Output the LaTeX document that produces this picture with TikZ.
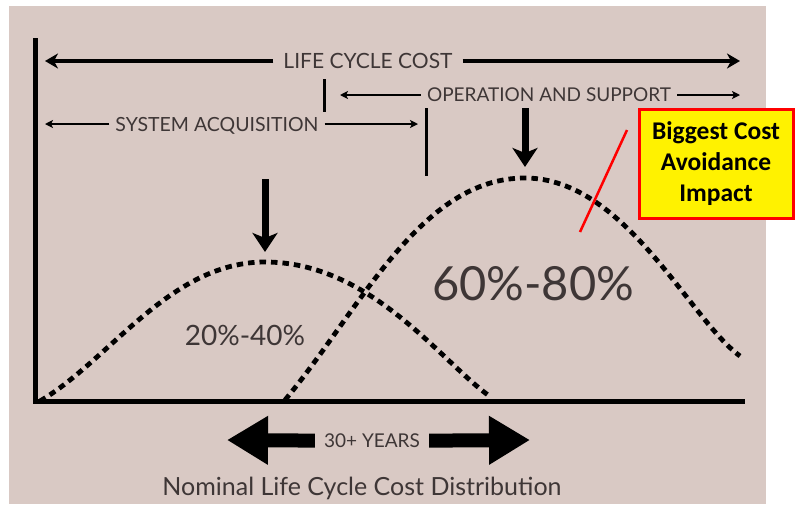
\documentclass[tikz,border=0pt]{standalone}
\usepackage{fontspec}
\setmainfont{Lato}
\newfontfamily\boxfont{Carlito}
\usetikzlibrary{arrows.meta}
\definecolor{bgpink}{RGB}{217,201,196}
\definecolor{ink}{RGB}{62,54,54}

\begin{document}
\begin{tikzpicture}[x=1pt,y=-1pt]
\tikzstyle{phase}=[text=ink, inner xsep=6pt, inner ysep=0pt, text depth=0pt]
\tikzstyle{span}=[line width=4.5pt, -{Stealth[length=13pt,width=15pt,inset=4pt]}]
\tikzstyle{subspan}=[line width=2pt, -{Stealth[length=8pt,width=8pt,inset=2pt]}]
\tikzstyle{axisline}=[line width=5pt]
\tikzstyle{tick}=[line width=3pt]
\tikzstyle{dotcurve}=[line width=4.8pt, dash pattern=on 6.5pt off 5pt]
\tikzstyle{dropper}=[line width=7pt, -{Stealth[length=19pt,width=25pt,inset=5pt]}]
\tikzstyle{yearsarrow}=[line width=14pt, -{Triangle[length=41pt,width=46pt]}]
\useasboundingbox (0,0) rectangle (797,504);
\fill[bgpink] (9,6) rectangle (766,504);
\coordinate (o) at (35,401);
\coordinate (ytop) at (35,38);
\coordinate (xend) at (745,401);
\coordinate (pk1) at (265,262);
\coordinate (pk2) at (525,178);
\draw[dotcurve] (40,401) .. controls (110,360) and (170,262) .. (pk1)
	.. controls (370,262) and (440,360) .. (488,395);
\draw[dotcurve] (285,400) .. controls (360,310) and (420,178) .. (pk2)
	.. controls (625,178) and (690,320) .. (740,356);
\draw[axisline] (ytop) -- (o) -- (xend);
\node[phase, font=\fontsize{21}{24}\selectfont, inner xsep=10pt] (lcc) at (368,61) {LIFE CYCLE COST};
\node[phase, font=\fontsize{19}{22}\selectfont] (os) at (549,95) {OPERATION AND SUPPORT};
\node[phase, font=\fontsize{19.5}{22}\selectfont] (sa) at (217,124) {SYSTEM ACQUISITION};
\coordinate (lccL) at (45,61);
\coordinate (lccR) at (740,61);
\coordinate (osL) at (340,95);
\coordinate (osR) at (740,95);
\coordinate (saL) at (45,124);
\coordinate (saR) at (418,124);
\draw[span] (lcc) -- (lccL);
\draw[span] (lcc) -- (lccR);
\draw[subspan] (os) -- (osL);
\draw[subspan] (os) -- (osR);
\draw[subspan] (sa) -- (saL);
\draw[subspan] (sa) -- (saR);
\draw[tick] (324,79) -- (324,112);
\draw[tick] (426,108) -- (426,176);
\draw[dropper] (265,179) -- (265,252);
\draw[dropper] (525,108) -- (525,167);
\node[phase, font=\fontsize{28}{32}\selectfont] (low) at (245,335) {20\%-40\%};
\node[phase, font=\fontsize{47}{50}\selectfont] (high) at (533,283) {60\%-80\%};
\node[draw=red, line width=3pt, fill=yellow, minimum width=154pt, minimum height=109pt, inner sep=0pt,
	align=center, font=\boxfont\bfseries\fontsize{25.5}{31}\selectfont] (impact) at (716,164)
	{Biggest Cost\\Avoidance\\Impact};
\coordinate (ptA) at (627,130);
\coordinate (ptB) at (580,232);
\draw[red, line width=2.5pt] (ptA) -- (ptB);
\node[phase, font=\fontsize{19}{21}\selectfont, inner xsep=9pt] (yrs) at (372,441) {30+ YEARS};
\coordinate (yrsL) at (227,440);
\coordinate (yrsR) at (530,440);
\draw[yearsarrow] (yrs) -- (yrsL);
\draw[yearsarrow] (yrs) -- (yrsR);
\node[phase, font=\fontsize{25}{28}\selectfont] (title) at (362,486) {Nominal Life Cycle Cost Distribution};
\end{tikzpicture}
\end{document}
